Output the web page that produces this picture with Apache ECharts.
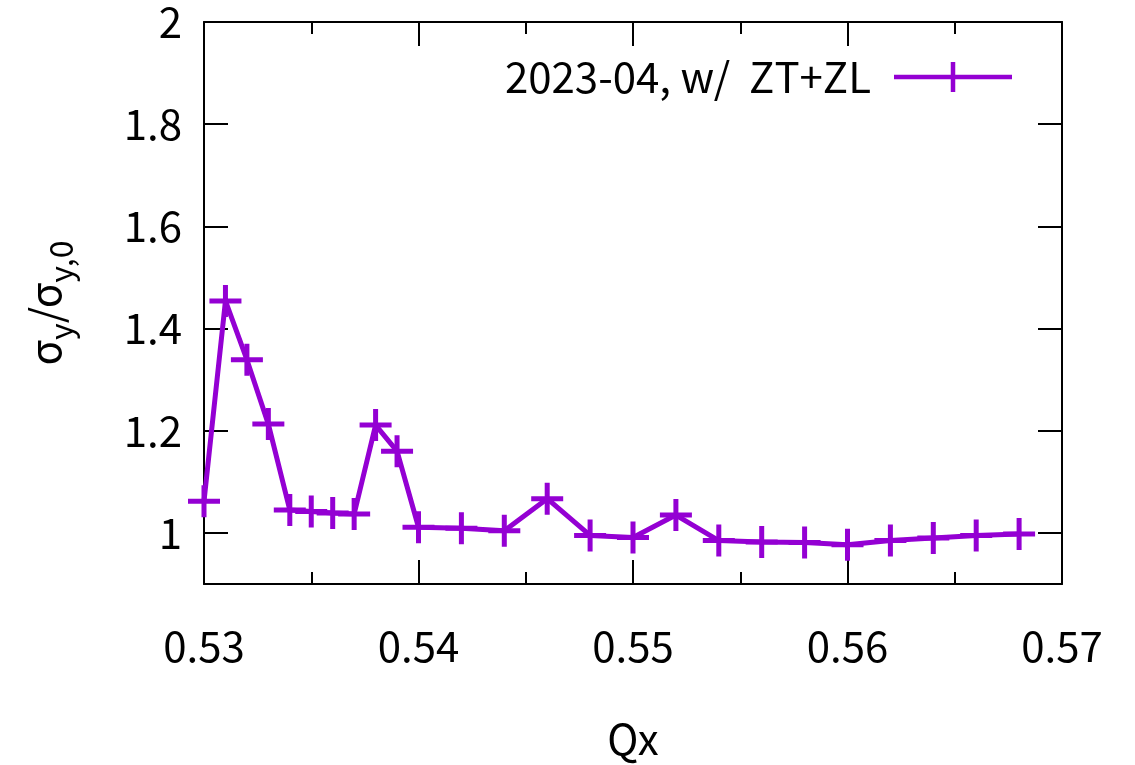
<!DOCTYPE html>
<html>
<head>
<meta charset="utf-8">
<script src="https://cdn.jsdelivr.net/npm/echarts@6/dist/echarts.min.js"></script>
<style>
html,body{margin:0;padding:0;background:#fff;}
#c{width:1135px;height:765px;}
</style>
</head>
<body>
<div id="c"></div>
<script>
const seriesName = '2023-04, w/  ZT+ZL';
const qx = [0.530,0.531,0.532,0.533,0.534,0.535,0.536,0.537,0.538,0.539,0.540,0.542,0.544,0.546,0.548,0.550,0.552,0.554,0.556,0.558,0.560,0.562,0.564,0.566,0.568];
const sigmaRatio = [1.062,1.454,1.339,1.213,1.045,1.042,1.039,1.037,1.211,1.160,1.011,1.009,1.004,1.067,0.995,0.991,1.035,0.985,0.982,0.981,0.977,0.985,0.990,0.995,0.998];
const xTicks = [0.53,0.54,0.55,0.56,0.57];
const yTicks = [1,1.2,1.4,1.6,1.8,2];

const FONT = '"Noto Sans CJK JP", "Noto Sans", sans-serif';
const FS = 42;
const COLOR = '#9400d3';
const plusPath = 'path://M0,13.5 H32 V18.5 H0 Z M13.5,0 H18.5 V32 H13.5 Z';
const legendPath = 'path://M0,12.75 H118 V17.25 H0 Z M56.75,0 H61.25 V30 H56.75 Z';

const chart = echarts.init(document.getElementById('c'), null, {renderer:'canvas'});
const axisLine = {show:true, lineStyle:{color:'#000', width:2}};
const tickStyle = {color:'#000', width:2};

chart.setOption({
  animation:false,
  backgroundColor:'#fff',
  grid:{left:204, top:22, width:858, height:564, containLabel:false},
  legend:{
    show:true,
    right:118, top:51,
    align:'right',
    itemWidth:118, itemHeight:30,
    itemGap:0,
    icon: legendPath,
    data:[{name:seriesName, icon: legendPath}],
    textStyle:{fontFamily:FONT, fontSize:FS, color:'#000', padding:[0,18,0,0]},
    selectedMode:false
  },
  xAxis:[{
    type:'value', min:0.53, max:0.57, interval:0.01, position:'bottom',
    axisLine: axisLine,
    axisTick:{show:true, inside:true, length:24, lineStyle:tickStyle, customValues: xTicks},
    minorTick:{show:true, splitNumber:2, length:12, lineStyle:tickStyle},
    splitLine:{show:false},
    axisLabel:{show:true, customValues: xTicks, margin:41, fontFamily:FONT, fontSize:FS, color:'#000',
      formatter:v=>v.toFixed(2)},
    name:'Qx', nameLocation:'middle', nameGap:134,
    nameTextStyle:{fontFamily:FONT, fontSize:FS, color:'#000'}
  },{
    type:'value', min:0.53, max:0.57, interval:0.01, position:'top',
    axisLine: axisLine,
    axisTick:{show:true, inside:true, length:24, lineStyle:tickStyle, customValues: xTicks},
    minorTick:{show:true, splitNumber:2, length:12, lineStyle:tickStyle},
    splitLine:{show:false},
    axisLabel:{show:false}
  }],
  yAxis:[{
    type:'value', min:0.9, max:2, position:'left',
    axisLine: axisLine,
    axisTick:{show:true, inside:true, length:24, lineStyle:tickStyle, customValues: yTicks},
    splitLine:{show:false},
    axisLabel:{show:true, customValues: yTicks, margin:22, fontFamily:FONT, fontSize:FS, color:'#000',
      formatter:v=>String(Math.round(v*10)/10)},
    name:'{m|σ}{s|y}{m|/σ}{s|y,0}', nameLocation:'middle', nameGap:138, nameRotate:90,
    nameTextStyle:{fontFamily:FONT, fontSize:FS, color:'#000',
      rich:{
        m:{fontFamily:FONT, fontSize:FS, color:'#000', verticalAlign:'bottom', lineHeight:50},
        s:{fontFamily:FONT, fontSize:32, color:'#000', verticalAlign:'bottom', lineHeight:34, padding:[0,0,-11,0]}
      }}
  },{
    type:'value', min:0.9, max:2, position:'right',
    axisLine: axisLine,
    axisTick:{show:true, inside:true, length:24, lineStyle:tickStyle, customValues: yTicks},
    splitLine:{show:false},
    axisLabel:{show:false}
  }],
  series:[{
    name: seriesName,
    type:'line',
    xAxisIndex:0, yAxisIndex:0,
    data: qx.map((x,i)=>[x, sigmaRatio[i]]),
    symbol: plusPath,
    symbolSize:32,
    showAllSymbol:true,
    itemStyle:{color:COLOR},
    lineStyle:{color:COLOR, width:5},
    emphasis:{disabled:true}
  }]
});
</script>
</body>
</html>
